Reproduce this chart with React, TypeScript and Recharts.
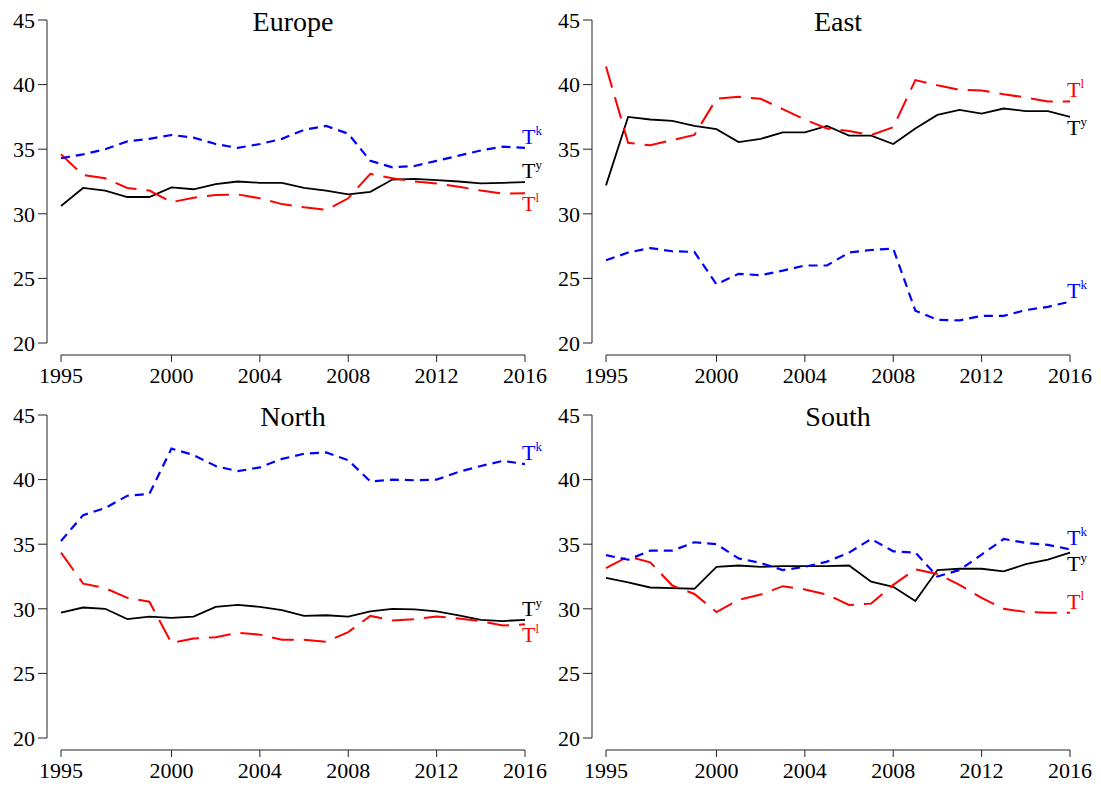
import React from "react";
import { LineChart, Line, XAxis, YAxis } from "recharts";

const years = [
  1995, 1996, 1997, 1998, 1999, 2000, 2001, 2002, 2003, 2004, 2005, 2006,
  2007, 2008, 2009, 2010, 2011, 2012, 2013, 2014, 2015, 2016,
];
const xTicks = [1995, 2000, 2004, 2008, 2012, 2016];
const yTicks = [20, 25, 30, 35, 40, 45];

// Europe
const europeK = [34.3, 34.6, 35.0, 35.6, 35.8, 36.1, 35.9, 35.4, 35.1, 35.4, 35.8, 36.5, 36.8, 36.2, 34.1, 33.6, 33.7, 34.1, 34.5, 34.9, 35.2, 35.1];
const europeY = [30.6, 32.0, 31.8, 31.3, 31.3, 32.05, 31.9, 32.3, 32.5, 32.4, 32.4, 32.0, 31.8, 31.5, 31.7, 32.65, 32.7, 32.6, 32.5, 32.35, 32.4, 32.45];
const europeL = [34.6, 33.0, 32.75, 32.0, 31.8, 30.9, 31.25, 31.45, 31.5, 31.2, 30.75, 30.5, 30.3, 31.2, 33.1, 32.75, 32.5, 32.35, 32.1, 31.8, 31.55, 31.6];

// East
const eastK = [26.4, 27.0, 27.35, 27.1, 27.05, 24.55, 25.35, 25.25, 25.6, 26.0, 26.0, 27.0, 27.2, 27.3, 22.5, 21.8, 21.75, 22.1, 22.1, 22.55, 22.8, 23.2];
const eastY = [32.2, 37.5, 37.3, 37.2, 36.8, 36.55, 35.55, 35.8, 36.3, 36.3, 36.8, 36.05, 36.05, 35.4, 36.6, 37.65, 38.05, 37.75, 38.15, 37.95, 37.95, 37.5];
const eastL = [41.4, 35.5, 35.3, 35.7, 36.1, 38.9, 39.05, 38.9, 38.1, 37.3, 36.6, 36.4, 36.1, 36.7, 40.35, 39.95, 39.6, 39.55, 39.25, 39.0, 38.7, 38.7];

// North
const northK = [35.25, 37.25, 37.8, 38.75, 38.9, 42.4, 41.9, 41.05, 40.65, 40.95, 41.6, 42.0, 42.1, 41.5, 39.85, 40.0, 39.95, 40.0, 40.6, 41.05, 41.45, 41.2];
const northY = [29.7, 30.1, 30.0, 29.2, 29.4, 29.3, 29.4, 30.15, 30.3, 30.15, 29.9, 29.45, 29.5, 29.4, 29.8, 30.0, 29.95, 29.8, 29.5, 29.15, 29.05, 29.15];
const northL = [34.35, 31.95, 31.6, 30.85, 30.55, 27.35, 27.7, 27.8, 28.15, 28.0, 27.6, 27.6, 27.45, 28.2, 29.45, 29.1, 29.2, 29.4, 29.25, 29.05, 28.7, 28.8];

// South
const southK = [34.15, 33.8, 34.5, 34.5, 35.15, 35.0, 33.9, 33.55, 33.0, 33.25, 33.65, 34.35, 35.4, 34.45, 34.35, 32.5, 33.0, 34.2, 35.4, 35.1, 34.95, 34.6];
const southY = [32.4, 32.05, 31.65, 31.6, 31.55, 33.25, 33.35, 33.25, 33.3, 33.3, 33.3, 33.35, 32.1, 31.7, 30.6, 33.0, 33.1, 33.1, 32.9, 33.45, 33.8, 34.35];
const southL = [33.15, 34.05, 33.6, 31.8, 31.15, 29.75, 30.7, 31.1, 31.75, 31.5, 31.1, 30.3, 30.4, 31.85, 33.05, 32.7, 31.85, 30.85, 30.0, 29.75, 29.7, 29.7];

const FONT = "'Liberation Serif', 'Times New Roman', serif";
const W = 550;
const H = 392;
const AXIS = "#222";

const SERIES = [
  { key: "y", color: "#000000", dash: undefined as string | undefined, width: 1.8 },
  { key: "l", color: "#ff0000", dash: "22 10", width: 2 },
  { key: "k", color: "#0000ff", dash: "9 6", width: 2.2 },
];

function endLabel(sup: string, color: string, side: number) {
  return (props: any) => {
    const { x, y, index } = props;
    if (index !== years.length - 1) return <g />;
    const base = side < 0 ? y - 4 : y + 18;
    return (
      <text x={x - 3} y={base} fill={color} fontFamily={FONT} fontSize={22}>
        T
        <tspan dy={-9} fontSize={13}>
          {sup}
        </tspan>
      </text>
    );
  };
}

interface PanelProps {
  title: string;
  k: number[];
  y: number[];
  l: number[];
  sides: Record<string, number>;
  left: number;
  top: number;
}

function Panel({ title, k, y, l, sides, left, top }: PanelProps) {
  const data = years.map((yr, i) => ({ year: yr, k: k[i], y: y[i], l: l[i] }));
  const tickStyle = { fill: "#000", fontSize: 22, fontFamily: FONT };
  return (
    <div style={{ position: "absolute", left, top, width: W, height: H }}>
      <div
        style={{
          position: "absolute",
          left: 61,
          width: 464,
          top: 6,
          textAlign: "center",
          fontSize: 28,
          lineHeight: "32px",
        }}
      >
        {title}
      </div>
      {/* y axis, offset left of the data like base R */}
      <div style={{ position: "absolute", left: 0, top: 0 }}>
        <LineChart width={W} height={H} data={data} margin={{ top: 20, right: 25, left: 0, bottom: 49 }}>
          <XAxis dataKey="year" type="number" domain={[1995, 2016]} hide />
          <YAxis
            type="number"
            domain={[20, 45]}
            ticks={yTicks}
            width={47}
            tickSize={9}
            tickMargin={3}
            stroke={AXIS}
            tick={tickStyle}
          />
          <Line
            dataKey="y"
            stroke="none"
            dot={false}
            activeDot={false}
            isAnimationActive={false}
          />
        </LineChart>
      </div>
      {/* data + x axis */}
      <div style={{ position: "absolute", left: 0, top: 0 }}>
        <LineChart width={W} height={H} data={data} margin={{ top: 20, right: 25, left: 61, bottom: 7 }}>
          <XAxis
            dataKey="year"
            type="number"
            domain={[1995, 2016]}
            ticks={xTicks}
            height={30}
            tickSize={7}
            tickMargin={5}
            stroke={AXIS}
            tick={tickStyle}
          />
          <YAxis type="number" domain={[20, 45]} hide padding={{ top: 0, bottom: 12 }} />
          {SERIES.map((s) => (
            <Line
              key={s.key}
              dataKey={s.key}
              type="linear"
              stroke={s.color}
              strokeWidth={s.width}
              strokeDasharray={s.dash}
              dot={false}
              activeDot={false}
              isAnimationActive={false}
              label={endLabel(s.key, s.color, sides[s.key])}
            />
          ))}
        </LineChart>
      </div>
    </div>
  );
}

export default function App() {
  return (
    <div
      style={{
        position: "absolute",
        left: 0,
        top: 0,
        width: 1101,
        height: 787,
        background: "#fff",
        fontFamily: FONT,
      }}
    >
      <Panel title="Europe" k={europeK} y={europeY} l={europeL} sides={{ k: -1, y: -1, l: 1 }} left={0} top={0} />
      <Panel title="East" k={eastK} y={eastY} l={eastL} sides={{ k: -1, y: 1, l: -1 }} left={545} top={0} />
      <Panel title="North" k={northK} y={northY} l={northL} sides={{ k: -1, y: -1, l: 1 }} left={0} top={395} />
      <Panel title="South" k={southK} y={southY} l={southL} sides={{ k: -1, y: 1, l: -1 }} left={545} top={395} />
    </div>
  );
}
